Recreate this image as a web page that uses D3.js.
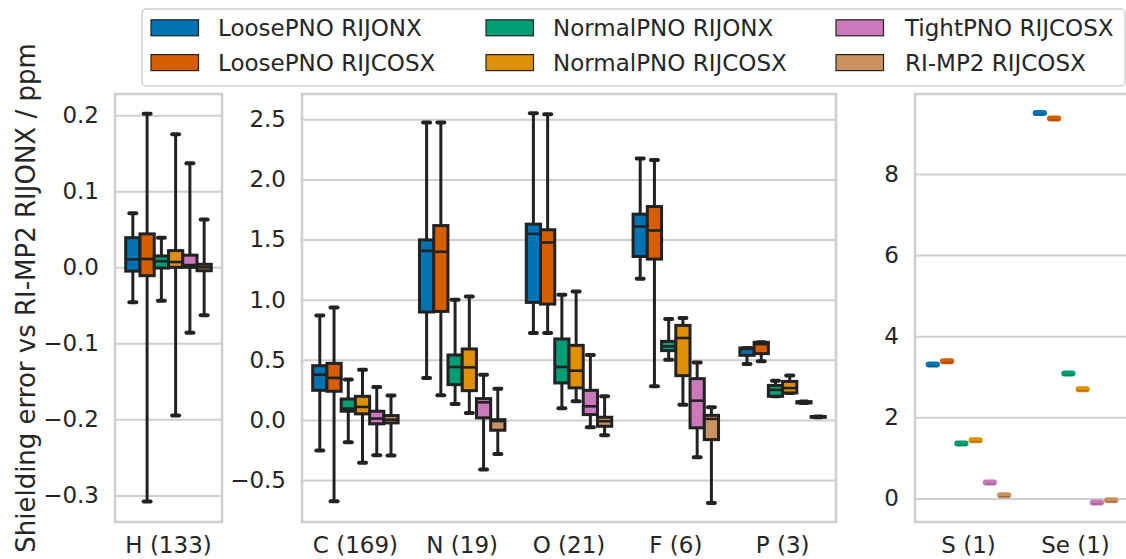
<!DOCTYPE html>
<html>
<head>
<meta charset="utf-8">
<script src="https://cdn.jsdelivr.net/npm/d3@7"></script>
<style>
  body { margin: 0; background: #fff; }
  svg { display: block; font-family: 'DejaVu Sans', sans-serif; }
</style>
</head>
<body>
<div id="chart"></div>
<script>
// hue series (legend order = dodge order)
const hues = ['LoosePNO RIJONX', 'LoosePNO RIJCOSX', 'NormalPNO RIJONX', 'NormalPNO RIJCOSX', 'TightPNO RIJCOSX', 'RI-MP2 RIJCOSX'];
const hueColors = ['#0173b2', '#d55e00', '#029e73', '#de8f05', '#cc78bc', '#ca9161'];

// box stats per hue: [whisker low, q1, median, q3, whisker high]
const statsH = [
  [-0.046, -0.005, 0.0105, 0.039, 0.071],
  [-0.308, -0.011, 0.011, 0.044, 0.202],
  [-0.044, -0.001, 0.008, 0.015, 0.039],
  [-0.195, 0.000, 0.007, 0.022, 0.175],
  [-0.086, 0.000, 0.003, 0.016, 0.137],
  [-0.063, -0.0045, 0.000, 0.004, 0.063]
];
const statsC = [
  [-0.255, 0.246, 0.376, 0.451, 0.869],
  [-0.676, 0.238, 0.349, 0.470, 0.935],
  [-0.186, 0.072, 0.094, 0.174, 0.335],
  [-0.357, 0.050, 0.108, 0.196, 0.418],
  [-0.294, -0.033, 0.011, 0.072, 0.274],
  [-0.297, -0.025, 0.002, 0.036, 0.202]
];
const statsN = [
  [0.349, 0.897, 1.406, 1.497, 2.472],
  [0.204, 0.902, 1.398, 1.616, 2.472],
  [0.133, 0.293, 0.440, 0.540, 0.999],
  [0.058, 0.243, 0.437, 0.590, 1.027],
  [-0.413, 0.017, 0.146, 0.177, 0.376],
  [-0.283, -0.086, -0.010, 0.002, 0.260]
];
const statsO = [
  [0.723, 0.977, 1.547, 1.628, 2.550],
  [0.723, 0.963, 1.475, 1.581, 2.541],
  [0.097, 0.307, 0.440, 0.673, 1.041],
  [0.155, 0.266, 0.409, 0.620, 1.068],
  [-0.061, 0.044, 0.113, 0.246, 0.540],
  [-0.128, -0.053, -0.011, 0.022, 0.196]
];
const statsF = [
  [1.174, 1.359, 1.608, 1.711, 2.173],
  [0.279, 1.337, 1.575, 1.774, 2.162],
  [0.501, 0.576, 0.611, 0.653, 0.839],
  [0.127, 0.368, 0.681, 0.786, 0.847],
  [-0.311, -0.066, 0.160, 0.343, 0.478],
  [-0.690, -0.164, 0.008, 0.038, 0.105]
];
const statsP = [
  [0.465, 0.537, 0.590, 0.598, 0.598],
  [0.487, 0.551, 0.630, 0.645, 0.645],
  [0.196, 0.196, 0.250, 0.287, 0.326],
  [0.224, 0.224, 0.265, 0.320, 0.370],
  [0.141, 0.141, 0.146, 0.152, 0.152],
  [0.022, 0.022, 0.025, 0.028, 0.028]
];
// single structures: one value per hue
const valuesS = [3.30, 3.38, 1.355, 1.436, 0.394, 0.082];
const valuesSe = [9.50, 9.367, 3.079, 2.692, -0.099, -0.041];

const single = (vals) => vals.map((v) => [v, v, v, v, v]);

// category labels and tick labels per panel
const panel1Cats = ['H (133)'];
const panel2Cats = ['C (169)', 'N (19)', 'O (21)', 'F (6)', 'P (3)'];
const panel3Cats = ['S (1)', 'Se (1)'];
const panel1Ticks = [-0.3, -0.2, -0.1, 0.0, 0.1, 0.2];
const panel2Ticks = [-0.5, 0.0, 0.5, 1.0, 1.5, 2.0, 2.5];
const panel3Ticks = [0, 2, 4, 6, 8];

const width = 1126;
const height = 559;
const plotTop = 94, plotBottom = 522;
const edge = '#222222';
const gridColor = '#cfcfcf';
const textColor = '#262626';
const fontSize = 23;

const panels = [
  { cats: panel1Cats, stats: [statsH], ticks: panel1Ticks, fmt: d3.format('.1f'),
    x0: 115, x1: 222, domain: [-0.335, 0.228] },
  { cats: panel2Cats, stats: [statsC, statsN, statsO, statsF, statsP], ticks: panel2Ticks, fmt: d3.format('.1f'),
    x0: 302, x1: 836, domain: [-0.849, 2.71] },
  { cats: panel3Cats, stats: [single(valuesS), single(valuesSe)], ticks: panel3Ticks, fmt: d3.format('d'),
    x0: 915, x1: 1129, domain: [-0.58, 9.97] }
];

const svg = d3.select('#chart')
  .append('svg')
  .attr('width', width)
  .attr('height', height);

panels.forEach((p) => {
  const x = d3.scaleBand().domain(p.cats).range([p.x0, p.x1]).padding(0);
  const y = d3.scaleLinear().domain(p.domain).range([plotBottom, plotTop]);
  const bw = x.bandwidth();
  const hueScale = d3.scaleBand().domain(hues).range([-0.4 * bw, 0.4 * bw]).padding(0);
  const boxW = hueScale.bandwidth();

  const g = svg.append('g');

  // gridlines
  g.append('g')
    .attr('transform', `translate(${p.x0},0)`)
    .call(d3.axisLeft(y).tickValues(p.ticks).tickFormat('').tickSize(-(p.x1 - p.x0)))
    .call((s) => s.select('.domain').remove())
    .call((s) => s.selectAll('line').attr('stroke', gridColor).attr('stroke-width', 2));

  // y tick labels
  g.append('g')
    .attr('transform', `translate(${p.x0},0)`)
    .call(d3.axisLeft(y).tickValues(p.ticks).tickFormat(p.fmt).tickSize(0).tickPadding(16))
    .call((s) => s.select('.domain').remove())
    .call((s) => s.selectAll('text')
      .attr('font-size', fontSize)
      .attr('font-family', 'DejaVu Sans')
      .attr('fill', textColor));

  // x labels
  g.append('g')
    .attr('transform', `translate(0,${plotBottom})`)
    .call(d3.axisBottom(x).tickSize(0).tickPadding(15))
    .call((s) => s.select('.domain').remove())
    .call((s) => s.selectAll('text')
      .attr('font-size', fontSize)
      .attr('font-family', 'DejaVu Sans')
      .attr('fill', textColor));

  // boxes
  p.cats.forEach((cat, ci) => {
    const cx = x(cat) + bw / 2;
    p.stats[ci].forEach((st, hi) => {
      const [lo, q1, med, q3, whi] = st;
      const bx = cx + hueScale(hues[hi]);
      const mx = bx + boxW / 2;
      const bg = g.append('g');
      if (q1 === q3 && lo === whi) {
        // single observation: flat coloured bar
        bg.append('line')
          .attr('x1', bx + 3).attr('x2', bx + boxW - 3)
          .attr('y1', y(med)).attr('y2', y(med))
          .attr('stroke', hueColors[hi])
          .attr('stroke-width', 6)
          .attr('stroke-linecap', 'round');
        bg.append('line')
          .attr('x1', bx + 2).attr('x2', bx + boxW - 2)
          .attr('y1', y(med) + 1.5).attr('y2', y(med) + 1.5)
          .attr('stroke', edge)
          .attr('stroke-opacity', 0.35)
          .attr('stroke-width', 1);
        return;
      }
      // whiskers
      bg.append('line')
        .attr('x1', mx).attr('x2', mx)
        .attr('y1', y(whi)).attr('y2', y(lo))
        .attr('stroke', edge).attr('stroke-width', 3);
      // caps
      [lo, whi].forEach((v) => {
        bg.append('line')
          .attr('x1', mx - 3.5).attr('x2', mx + 3.5)
          .attr('y1', y(v)).attr('y2', y(v))
          .attr('stroke', edge).attr('stroke-width', 4)
          .attr('stroke-linecap', 'round');
      });
      // box
      bg.append('rect')
        .attr('x', bx)
        .attr('y', y(q3))
        .attr('width', boxW)
        .attr('height', Math.max(0, y(q1) - y(q3)))
        .attr('fill', hueColors[hi])
        .attr('stroke', edge)
        .attr('stroke-width', 3);
      // median
      bg.append('line')
        .attr('x1', bx).attr('x2', bx + boxW)
        .attr('y1', y(med)).attr('y2', y(med))
        .attr('stroke', edge).attr('stroke-width', 2.6);
    });
  });

  // frame
  g.append('rect')
    .attr('x', p.x0).attr('y', plotTop)
    .attr('width', p.x1 - p.x0).attr('height', plotBottom - plotTop)
    .attr('fill', 'none')
    .attr('stroke', gridColor)
    .attr('stroke-width', 2.6);
});

// y axis title
svg.append('text')
  .attr('transform', 'translate(35,298) rotate(-90)')
  .attr('text-anchor', 'middle')
  .attr('font-size', 26)
  .attr('fill', textColor)
  .text('Shielding error vs RI-MP2 RIJONX / ppm');

// legend
const legend = svg.append('g');
legend.append('rect')
  .attr('x', 142).attr('y', 9)
  .attr('width', 983).attr('height', 77)
  .attr('rx', 4)
  .attr('fill', '#fff')
  .attr('stroke', gridColor)
  .attr('stroke-width', 1.5);

const legendPatchX = [151, 486, 836];
const legendTextX = [218, 553, 905];
const legendRows = [27.8, 62.6];
hues.forEach((h, i) => {
  const col = Math.floor(i / 2);
  const ly = legendRows[i % 2];
  legend.append('rect')
    .attr('x', legendPatchX[col]).attr('y', ly - 8)
    .attr('width', 47.5).attr('height', 16)
    .attr('fill', hueColors[i])
    .attr('stroke', edge)
    .attr('stroke-width', 1.2);
  legend.append('text')
    .attr('x', legendTextX[col])
    .attr('y', ly)
    .attr('dy', '0.36em')
    .attr('font-size', fontSize)
    .attr('fill', textColor)
    .text(h);
});
</script>
</body>
</html>
